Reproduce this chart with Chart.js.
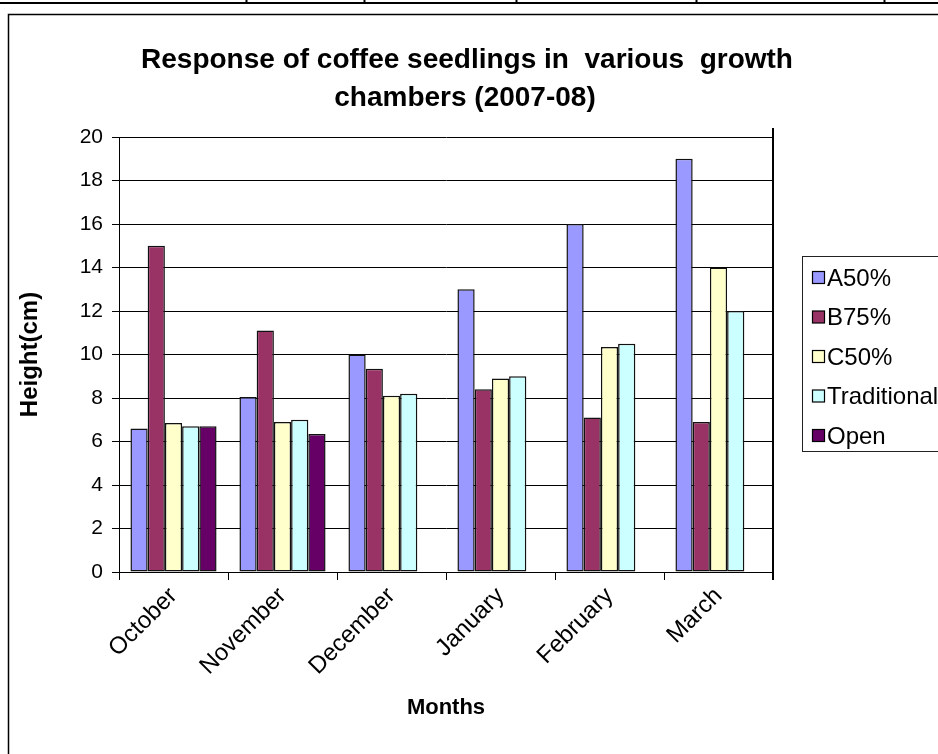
<!DOCTYPE html>
<html>
<head>
<meta charset="utf-8">
<script src="https://cdn.jsdelivr.net/npm/chart.js@4.4.0/dist/chart.umd.min.js"></script>
<style>
  html, body { margin: 0; padding: 0; background: #fff; }
  canvas { display: block; }
</style>
</head>
<body>
<canvas id="myChart1" width="938" height="754"></canvas>
<script>
//------------------ データ ------------------//
// 月（横軸カテゴリ）
const MONTHS = ['October', 'November', 'December', 'January', 'February', 'March']
// 各チャンバーの苗の高さ(cm)
const A50 = [6.6, 8.05, 10.0, 13.0, 16.0, 19.0]
const B75 = [15.0, 11.1, 9.35, 8.4, 7.1, 6.9]
const C50 = [6.85, 6.9, 8.1, 8.9, 10.35, 14.0]
const TRADITIONAL = [6.7, 7.0, 8.2, 9.0, 10.5, 12.0]
const OPEN = [6.7, 6.35, null, null, null, null]
// 縦軸目盛
const Y_MIN = 0
const Y_MAX = 20
const Y_STEP = 2
// テキスト
const TITLE_LINES = ['Response of coffee seedlings in  various  growth', 'chambers (2007-08)']
const X_TITLE = 'Months'
const Y_TITLE = 'Height(cm)'
//--------------------------------------------//

const CHART_ID = 'myChart1'
const FONT = "'Liberation Sans', Arial, sans-serif"

Chart.defaults.font.family = FONT
Chart.defaults.color = '#000'

/*--------------------------------------------------------------------
系列を作る関数
--------------------------------------------------------------------*/
function makeSeries(label, data, color){
    return {
        label: label,
        data: data,
        backgroundColor: color,
        borderColor: '#111',
        borderWidth: 1.5,
        borderSkipped: false,
        categoryPercentage: 0.79,
        barPercentage: 1.0
    }
}

/*--------------------------------------------------------------------
外枠・タイトルを描くプラグイン
--------------------------------------------------------------------*/
const framePlugin = {
    id: 'frame',
    beforeDraw(chart){
        const ctx = chart.ctx
        ctx.save()
        ctx.fillStyle = '#fff'
        ctx.fillRect(0, 0, chart.width, chart.height)

        // 上の表の罫線
        ctx.strokeStyle = '#000'
        ctx.lineWidth = 2
        ctx.beginPath()
        ctx.moveTo(0, 3)
        ctx.lineTo(chart.width, 3)
        for (const x of [246, 364, 516, 696, 884]){
            ctx.moveTo(x + 0.5, 0)
            ctx.lineTo(x + 0.5, 4)
        }
        ctx.stroke()

        // グラフの枠
        ctx.lineWidth = 1.5
        ctx.beginPath()
        ctx.moveTo(8.5, chart.height)
        ctx.lineTo(8.5, 14.5)
        ctx.lineTo(chart.width, 14.5)
        ctx.stroke()

        // タイトル
        ctx.fillStyle = '#000'
        ctx.font = 'bold 28px ' + FONT
        ctx.textAlign = 'center'
        ctx.textBaseline = 'middle'
        ctx.fillText(TITLE_LINES[0], 467, 60)
        ctx.fillText(TITLE_LINES[1], 465, 98)
        ctx.restore()
    },
    afterDraw(chart){
        const ctx = chart.ctx
        const area = chart.chartArea
        ctx.save()

        // 右側の縦線
        ctx.strokeStyle = '#000'
        ctx.lineWidth = 2
        ctx.beginPath()
        ctx.moveTo(Math.round(area.right), area.top - 9)
        ctx.lineTo(Math.round(area.right), area.bottom + 8)
        ctx.stroke()

        // 軸タイトル
        ctx.fillStyle = '#000'
        ctx.font = 'bold 22px ' + FONT
        ctx.textAlign = 'center'
        ctx.textBaseline = 'middle'
        ctx.fillText(X_TITLE, (area.left + area.right) / 2, 708)
        ctx.font = 'bold 24px ' + FONT
        ctx.translate(30, (area.top + area.bottom) / 2)
        ctx.rotate(-Math.PI / 2)
        ctx.fillText(Y_TITLE, 0, 0)
        ctx.restore()

        // 凡例
        const datasets = chart.data.datasets
        ctx.save()
        ctx.strokeStyle = '#222'
        ctx.lineWidth = 1
        ctx.strokeRect(802.5, 256.5, 140, 195)
        ctx.font = '24px ' + FONT
        ctx.textAlign = 'left'
        ctx.textBaseline = 'middle'
        for (let i = 0; i < datasets.length; i++){
            const y = 278 + i * 39.5
            ctx.fillStyle = datasets[i].backgroundColor
            ctx.fillRect(812.5, y - 6.5, 12, 12)
            ctx.strokeStyle = '#000'
            ctx.lineWidth = 1.2
            ctx.strokeRect(812.5, y - 6.5, 12, 12)
            ctx.fillStyle = '#000'
            ctx.fillText(datasets[i].label, 827, y + 1)
        }
        ctx.restore()
    }
}

// チャート作成
const ctx = document.getElementById(CHART_ID)
window.myChart = new Chart(ctx, {
    type: 'bar',
    data: {
        labels: MONTHS,
        datasets: [
            makeSeries('A50%', A50, '#9999FF'),
            makeSeries('B75%', B75, '#993366'),
            makeSeries('C50%', C50, '#FFFFCC'),
            makeSeries('Traditional', TRADITIONAL, '#CCFFFF'),
            makeSeries('Open', OPEN, '#660066')
        ]
    },
    options: {
        responsive: false,
        animation: false,
        layout: {
            padding: { left: 0, top: 137, right: 165, bottom: 0 }
        },
        plugins: {
            legend: { display: false },
            title: { display: false },
            tooltip: { enabled: false }
        },
        scales: {
            x: {
                grid: {
                    offset: true,
                    drawOnChartArea: false,
                    drawTicks: true,
                    tickLength: 8,
                    color: '#000'
                },
                border: { color: '#000', width: 1 },
                ticks: {
                    minRotation: 45,
                    maxRotation: 45,
                    padding: 2,
                    font: { size: 24 }
                },
                afterFit(scale){ scale.height = 182 }
            },
            y: {
                min: Y_MIN,
                max: Y_MAX,
                grid: {
                    color: '#000',
                    tickLength: 7
                },
                border: { color: '#000', width: 1 },
                ticks: {
                    stepSize: Y_STEP,
                    padding: 9,
                    font: { size: 21 }
                },
                afterFit(scale){ scale.width = 119 }
            }
        }
    },
    plugins: [framePlugin]
})
</script>
</body>
</html>
